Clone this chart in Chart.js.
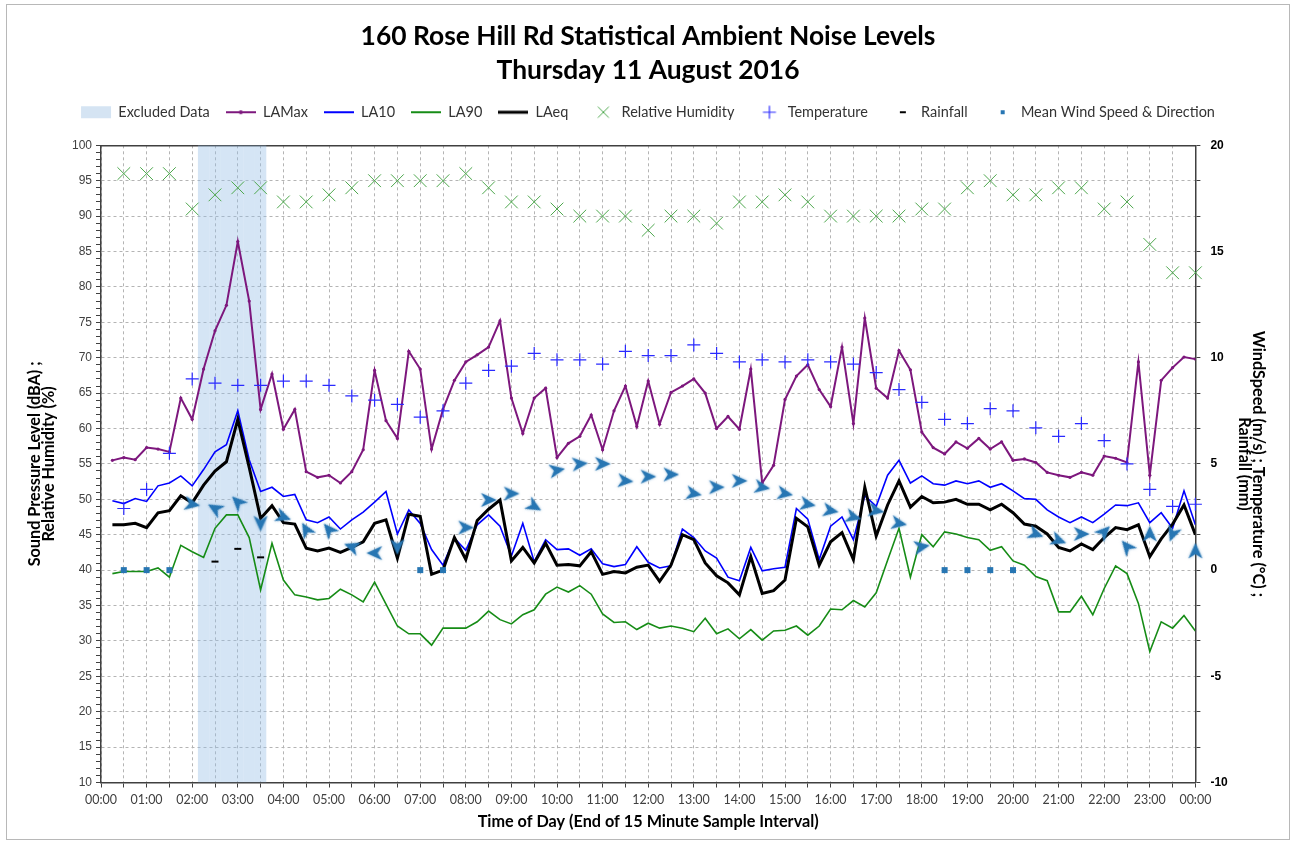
<!DOCTYPE html>
<html>
<head>
<meta charset="utf-8">
<title>160 Rose Hill Rd Statistical Ambient Noise Levels</title>
<script src="https://cdn.jsdelivr.net/npm/chart.js@4.4.1/dist/chart.umd.min.js"></script>
<style>
html, body { margin: 0; padding: 0; background: #ffffff; overflow: hidden; }
canvas { display: block; }
</style>
</head>
<body>
<canvas id="chart" width="1296" height="844"></canvas>
<script>
// ---------------- DATA ----------------
const titleLines = ['160 Rose Hill Rd Statistical Ambient Noise Levels', 'Thursday 11 August 2016'];
const hourLabels = ['00:00','01:00','02:00','03:00','04:00','05:00','06:00','07:00','08:00','09:00','10:00','11:00',
                    '12:00','13:00','14:00','15:00','16:00','17:00','18:00','19:00','20:00','21:00','22:00','23:00','00:00'];
const leftTickLabels = [10,15,20,25,30,35,40,45,50,55,60,65,70,75,80,85,90,95,100];
const rightTickLabels = [-10,-5,0,5,10,15,20];

// 15-minute samples (end of interval 00:15 ... 24:00)
const excludedSamples = ['02:15','02:30','02:45','03:00','03:15','03:30'];
const laMax = [55.5,55.9,55.6,57.3,57.1,56.7,64.3,61.3,68.4,73.8,
               77.4,86.4,78.0,62.7,67.7,59.9,62.7,53.9,53.1,53.4,
               52.3,53.9,57.0,68.2,61.1,58.6,70.9,68.4,57.1,62.7,
               66.8,69.4,70.4,71.5,75.2,64.3,59.3,64.3,65.7,55.9,
               57.9,58.9,61.9,57.0,62.5,66.0,60.3,66.7,60.6,65.1,
               66.0,67.0,65.0,60.0,61.7,59.9,68.4,52.3,54.8,64.1,
               67.4,69.0,65.5,63.1,71.5,60.7,75.6,65.7,64.3,71.0,
               68.3,59.5,57.3,56.4,58.1,57.2,58.6,57.1,58.1,55.5,
               55.7,55.2,53.8,53.4,53.1,53.8,53.4,56.1,55.8,55.2,
               69.4,53.4,66.8,68.6,70.1,69.8];
const la10 = [49.8,49.4,50.1,49.7,51.9,52.3,53.3,51.9,54.2,56.7,
              57.7,62.5,55.6,51.1,51.7,50.4,50.7,47.1,46.7,47.5,
              45.8,47.1,48.2,49.6,51.1,45.1,48.5,46.6,42.9,40.7,
              44.5,42.8,46.4,47.8,46.2,42.0,46.6,41.2,44.3,42.9,
              43.0,42.1,43.0,40.9,40.5,40.8,43.3,41.1,40.3,40.6,
              45.8,44.6,42.7,41.7,39.0,38.5,43.2,39.9,40.2,40.4,
              48.7,47.2,41.5,46.2,47.5,44.3,50.5,49.0,53.4,55.5,
              52.3,53.3,52.2,52.0,52.6,52.2,52.6,51.7,52.2,51.2,
              50.1,50.0,48.5,47.5,46.7,47.5,46.7,47.9,49.2,49.1,
              49.5,46.7,48.1,45.9,51.2,46.4];
const la90 = [39.5,39.8,39.8,39.8,40.3,39.0,43.5,42.6,41.8,45.9,
              47.8,47.8,44.6,37.2,43.8,38.6,36.5,36.2,35.8,36.0,
              37.3,36.5,35.5,38.3,35.2,32.1,31.0,31.0,29.4,31.8,
              31.8,31.8,32.7,34.2,33.0,32.4,33.7,34.4,36.6,37.6,
              36.9,37.8,36.6,33.8,32.6,32.7,31.6,32.5,31.8,32.1,
              31.8,31.3,33.2,31.0,31.7,30.3,31.6,30.1,31.4,31.5,
              32.1,30.8,32.1,34.5,34.4,35.7,34.8,36.8,41.4,45.9,
              39.0,45.0,43.3,45.4,45.1,44.6,44.3,42.8,43.3,41.3,
              40.7,39.1,38.5,34.1,34.1,36.3,33.7,37.4,40.6,39.5,
              35.3,28.5,32.7,31.8,33.6,31.4];
const laEq = [46.4,46.4,46.6,46.0,48.1,48.4,50.5,49.5,52.0,54.0,
              55.3,61.3,54.5,47.3,49.1,46.7,46.5,43.1,42.7,43.1,
              42.5,43.2,44.0,46.6,47.1,41.7,47.9,47.6,39.4,40.0,
              44.6,41.5,47.0,48.6,49.9,41.3,43.2,41.0,43.8,40.7,
              40.8,40.6,42.6,39.4,39.8,39.6,40.4,40.7,38.4,40.7,
              45.0,44.3,41.0,39.2,38.2,36.5,41.9,36.7,37.1,38.6,
              47.3,46.1,40.7,44.0,45.3,41.5,51.7,44.8,49.2,52.6,
              48.9,50.4,49.5,49.6,50.0,49.3,49.3,48.5,49.3,48.1,
              46.5,46.2,45.1,43.2,42.7,43.7,42.9,44.6,46.0,45.7,
              46.4,41.9,44.4,46.5,49.2,45.0];

// 30-minute weather samples (00:30 ... 24:00)
const humidity = [96,96,96,91,93,94,94,92,92,93,
                  94,95,95,95,95,96,94,92,92,91,
                  90,90,90,88,90,90,89,92,92,93,
                  92,90,90,90,90,91,91,94,95,93,
                  93,94,94,91,92,86,82,82];
const temperature = [2.9,3.8,5.5,9.0,8.8,8.7,8.7,8.9,8.9,8.7,
                     8.2,8.0,7.8,7.2,7.5,8.8,9.4,9.6,10.2,9.9,
                     9.9,9.7,10.3,10.1,10.1,10.6,10.2,9.8,9.9,9.8,
                     9.9,9.8,9.7,9.3,8.5,7.9,7.1,6.9,7.6,7.5,
                     6.7,6.3,6.9,6.1,5.0,3.8,3.0,3.1];
const rainfall = [null,null,null,null,0.4,1.0,0.6,null,null,null,
                  null,null,null,null,null,null,null,null,null,null,
                  null,null,null,null,null,null,null,null,null,null,
                  null,null,null,null,null,null,null,null,null,null,
                  null,null,null,null,null,null,null,null];
const windSpeed = [0,0,0,3.1,2.9,3.2,2.2,2.5,1.9,1.9,
                   1.1,0.8,1.1,0,0,2.0,3.3,3.6,3.0,4.7,
                   5.0,5.0,4.2,4.4,4.5,3.6,3.9,4.2,3.9,3.6,
                   3.1,2.8,2.5,2.8,2.2,1.1,0,0,0,0,
                   1.7,1.4,1.7,1.8,1.1,1.7,1.7,0.9];
// direction the arrow points, degrees clockwise from up (null = calm)
const windDirection = [null,null,null,100,300,315,180,110,330,320,
                       290,270,180,null,null,90,90,90,120,80,
                       85,90,95,90,90,100,90,90,100,100,
                       100,100,105,100,100,80,null,null,null,null,
                       110,110,90,45,320,0,200,0];

// ---------------- LAYOUT / STYLE ----------------
const W = 1296, H = 844;
const PLOT = { left: 101, right: 1195.4, top: 145.3, bottom: 782.5 };
const C = {
  band: 'rgba(150,190,230,0.40)', bandSolid: '#d5e4f3',
  max: '#7d177d', l10: '#0000ff', l90: '#168c16', leq: '#000000',
  rh: '#4ea84e', temp: '#2a2aff', rain: '#000000', wind: '#2776b3',
  grid: '#b4b4b4', axis: '#404040'
};

const mctx = document.createElement('canvas').getContext('2d');
function fitSize(text, weight, family, target) {
  mctx.font = weight + ' 100px ' + family;
  return Math.round(100 * target / mctx.measureText(text).width * 100) / 100;
}
const titleSize = fitSize(titleLines[0], 'bold', 'Lato', 575);
const legendSize = fitSize('Mean Wind Speed & Direction', 'normal', 'Lato', 194);
const xTickSize = fitSize('00:00', 'normal', 'Lato', 32);
const axisTitleSize = fitSize('Sound Pressure Level (dBA) ;', 'bold', 'Lato', 205);

const TITLE_PAD_TOP = 19, TITLE_LINE = 34, TITLE_PAD_BOTTOM = 2, LEGEND_PAD = 16;
// Chart.js legend height (one row) = padding + itemHeight + 10
const legendBottom = TITLE_PAD_TOP + 2 * TITLE_LINE + TITLE_PAD_BOTTOM + LEGEND_PAD + Math.max(legendSize, 12) + 10;

const toHours = s => { const p = s.split(':').map(Number); return p[0] + p[1] / 60; };
const q15 = arr => arr.map((v, i) => ({ x: (i + 1) * 0.25, y: v }));
const q30 = arr => arr.map((v, i) => ({ x: (i + 1) * 0.5, y: v }));

function mk(w, h, draw) { const c = document.createElement('canvas'); c.width = w; c.height = h; draw(c.getContext('2d')); return c; }
const arrowImg = mk(20, 20, g => {
  g.shadowColor = 'rgba(39,118,179,0.6)'; g.shadowBlur = 2.5;
  g.fillStyle = C.wind;
  g.beginPath(); g.moveTo(10, 2); g.lineTo(17, 17.5); g.lineTo(10, 13); g.lineTo(3, 17.5); g.closePath(); g.fill();
});
const calmImg = mk(8, 8, g => { g.fillStyle = C.wind; g.fillRect(1, 1, 6, 6); });
const legLine = (color, w, dot) => mk(30, 8, g => {
  g.strokeStyle = color; g.lineWidth = w; g.beginPath(); g.moveTo(0, 4); g.lineTo(30, 4); g.stroke();
  if (dot) { g.fillStyle = color; g.beginPath(); g.arc(15, 4, 2, 0, Math.PI * 2); g.fill(); }
});
const legX = mk(30, 16, g => { g.strokeStyle = C.rh; g.lineWidth = 1; g.beginPath(); g.moveTo(13.5, 2.5); g.lineTo(24.5, 13.5); g.moveTo(24.5, 2.5); g.lineTo(13.5, 13.5); g.stroke(); });
const legPlus = mk(30, 16, g => { g.strokeStyle = C.temp; g.lineWidth = 1.2; g.beginPath(); g.moveTo(12.5, 8); g.lineTo(25.5, 8); g.moveTo(19, 1.5); g.lineTo(19, 14.5); g.stroke(); });
const legDash = mk(30, 16, g => { g.fillStyle = C.rain; g.fillRect(16, 7, 6, 2); });
const legSq = mk(30, 16, g => { g.fillStyle = C.wind; g.fillRect(17, 6, 4, 4); });

const framePlugin = {
  id: 'frame',
  beforeDraw(chart) {
    const g = chart.ctx; g.save();
    g.fillStyle = '#ffffff'; g.fillRect(0, 0, chart.width, chart.height);
    g.strokeStyle = '#b8b8b8'; g.lineWidth = 1; g.strokeRect(6.5, 4.5, 1283, 835);
    g.restore();
  }
};

const datasets = [
  { type: 'bar', label: 'Excluded Data', order: 10,
    data: excludedSamples.map(t => ({ x: toHours(t), y: [10, 100] })),
    backgroundColor: C.band, borderWidth: 0, barPercentage: 1, categoryPercentage: 1, inflateAmount: 0,
    legendStyle: { pointStyle: 'rect', fillStyle: C.bandSolid, strokeStyle: 'rgba(0,0,0,0)', lineWidth: 0 } },
  { type: 'line', label: 'LAMax', order: 3, data: q15(laMax), borderColor: C.max, borderWidth: 2,
    pointRadius: 1.6, pointBackgroundColor: C.max, pointBorderWidth: 0, tension: 0,
    legendStyle: { pointStyle: legLine(C.max, 2, true) } },
  { type: 'line', label: 'LA10', order: 4, data: q15(la10), borderColor: C.l10, borderWidth: 1.6, pointRadius: 0, tension: 0,
    legendStyle: { pointStyle: legLine(C.l10, 2, false) } },
  { type: 'line', label: 'LA90', order: 5, data: q15(la90), borderColor: C.l90, borderWidth: 1.6, pointRadius: 0, tension: 0,
    legendStyle: { pointStyle: legLine(C.l90, 2, false) } },
  { type: 'line', label: 'LAeq', order: 2, data: q15(laEq), borderColor: C.leq, borderWidth: 3, pointRadius: 0, tension: 0,
    legendStyle: { pointStyle: legLine(C.leq, 3, false) } },
  { type: 'line', label: 'Relative Humidity', order: 1, data: q30(humidity), showLine: false, clip: false,
    borderColor: C.rh, pointStyle: 'crossRot', pointRadius: 9, pointBorderColor: C.rh, pointBorderWidth: 1,
    legendStyle: { pointStyle: legX } },
  { type: 'line', label: 'Temperature', order: 1, yAxisID: 'y1', data: q30(temperature), showLine: false, clip: false,
    borderColor: C.temp, pointStyle: 'cross', pointRadius: 6.5, pointBorderColor: C.temp, pointBorderWidth: 1.2,
    legendStyle: { pointStyle: legPlus } },
  { type: 'line', label: 'Rainfall', order: 0, yAxisID: 'y1', data: q30(rainfall), showLine: false, clip: false,
    borderColor: C.rain, pointStyle: 'line', pointRadius: 3.5, pointBorderColor: C.rain, pointBorderWidth: 2,
    legendStyle: { pointStyle: legDash } },
  { type: 'line', label: 'Mean Wind Speed & Direction', order: 0, yAxisID: 'y1', data: q30(windSpeed), showLine: false, clip: false,
    borderColor: C.wind, backgroundColor: C.wind, pointRadius: 6,
    pointStyle: windDirection.map(d => d === null ? calmImg : arrowImg),
    pointRotation: windDirection.map(d => d === null ? 0 : d),
    legendStyle: { pointStyle: legSq } }
];

new Chart(document.getElementById('chart'), {
  type: 'line',
  data: { datasets },
  plugins: [framePlugin],
  options: {
    responsive: false, animation: false, events: [],
    layout: { padding: { left: 0, right: 0, top: 0, bottom: 10 } },
    plugins: {
      tooltip: { enabled: false },
      title: { display: true, text: titleLines, color: '#000000',
        font: { family: 'Lato', weight: 'bold', size: titleSize, lineHeight: TITLE_LINE + 'px' },
        padding: { top: TITLE_PAD_TOP, bottom: TITLE_PAD_BOTTOM } },
      legend: { display: true, position: 'top',
        labels: { usePointStyle: true, pointStyleWidth: 30, boxHeight: 12, padding: LEGEND_PAD, color: '#333333',
          font: { family: 'Lato', size: legendSize },
          sort: (a, b) => a.datasetIndex - b.datasetIndex,
          generateLabels(chart) {
            const items = Chart.defaults.plugins.legend.labels.generateLabels(chart);
            return items.map(it => Object.assign(it, chart.data.datasets[it.datasetIndex].legendStyle || {}));
          } } }
    },
    scales: {
      x: { type: 'linear', position: 'bottom', min: 0, max: 24, offset: false,
        grid: { offset: false, color: C.grid, lineWidth: 1, tickColor: C.axis, tickLength: 5, tickWidth: 1 },
        border: { display: true, color: C.axis, width: 1.5, dash: [3, 3] },
        ticks: { stepSize: 0.5, autoSkip: false, maxRotation: 0, minRotation: 0, padding: 5, color: '#404040',
          font: { family: 'Lato', size: xTickSize },
          callback: v => Number.isInteger(v) ? hourLabels[v] : '' },
        title: { display: true, text: 'Time of Day (End of 15 Minute Sample Interval)', color: '#000000',
          font: { family: 'Lato', weight: 'bold', size: axisTitleSize, lineHeight: '14px' }, padding: { top: 0, bottom: 5 } },
        afterFit: a => { a.height = H - PLOT.bottom - 10; } },
      xTop: { type: 'linear', position: 'top', min: 0, max: 24, offset: false,
        grid: { display: false, drawOnChartArea: false, drawTicks: false },
        border: { display: true, color: C.axis, width: 1.5 },
        ticks: { display: false },
        afterFit: a => { a.height = PLOT.top - legendBottom; } },
      y: { type: 'linear', position: 'left', min: 10, max: 100, beginAtZero: false,
        grid: { color: c => (c.tick && c.tick.value % 5 === 0) ? C.grid : 'rgba(0,0,0,0)', tickColor: C.axis, tickLength: 5 },
        border: { display: true, color: C.axis, width: 1.5, dash: [3, 3] },
        ticks: { stepSize: 1, autoSkip: false, padding: 4, color: '#404040',
          font: { family: 'Liberation Sans', size: 12 },
          callback: v => leftTickLabels.includes(v) ? String(v) : '' },
        title: { display: true, text: ['Sound Pressure Level (dBA) ;', 'Relative Humidity (%)'], color: '#000000',
          font: { family: 'Lato', weight: 'bold', size: axisTitleSize, lineHeight: '14px' }, padding: { top: 28, bottom: 0 } },
        afterFit: a => { a.width = PLOT.left; } },
      y1: { type: 'linear', position: 'right', min: -10, max: 20, beginAtZero: false,
        grid: { drawOnChartArea: false, tickColor: C.axis, tickLength: 5 },
        border: { display: true, color: C.axis, width: 1.5 },
        afterBuildTicks: a => { const t = []; for (let k = 0; k <= 18; k++) t.push({ value: -10 + k * 30 / 18 }); a.ticks = t; },
        ticks: { autoSkip: false, padding: 10, color: '#000000',
          font: { family: 'Liberation Sans', size: 12, weight: 'bold' },
          callback: v => { const r = Math.round(v); return (Math.abs(v - r) < 1e-6 && rightTickLabels.includes(r)) ? String(r) : ''; } },
        title: { display: true, text: ['WindSpeed (m/s) ; Temperature (\u00B0C) ;', 'Rainfall (mm)'], color: '#000000',
          font: { family: 'Lato', weight: 'bold', size: axisTitleSize, lineHeight: '14px' }, padding: { top: 31, bottom: 0 } },
        afterFit: a => { a.width = W - PLOT.right; } }
    }
  }
});
</script>
</body>
</html>
